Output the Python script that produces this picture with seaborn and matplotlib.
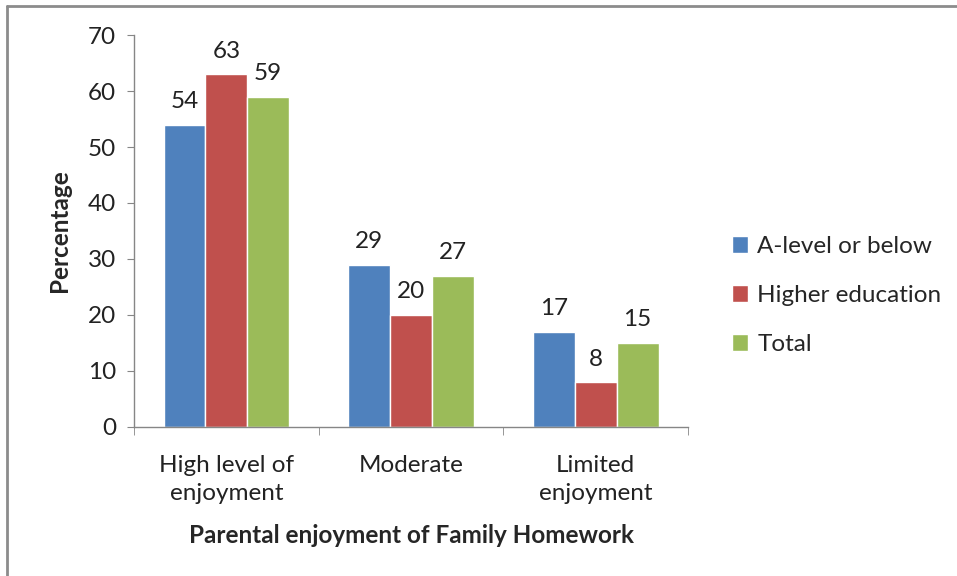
import pandas as pd
import matplotlib.pyplot as plt
import seaborn as sns

# Data
categories = ['High level of\nenjoyment', 'Moderate', 'Limited\nenjoyment']
groups = ['A-level or below', 'Higher education', 'Total']
a_level = [54, 29, 17]
higher_ed = [63, 20, 8]
total = [59, 27, 15]

colors = ['#4F81BD', '#C0504D', '#9BBB59']

df = pd.DataFrame({
    'category': categories * 3,
    'group': [groups[0]] * 3 + [groups[1]] * 3 + [groups[2]] * 3,
    'value': a_level + higher_ed + total,
})

sns.set_style('white')
plt.rcParams['font.family'] = ['Lato', 'DejaVu Sans']

FS = 17.5

fig = plt.figure(figsize=(9.57, 5.76), dpi=100)
ax = fig.add_axes([0.140, 0.259, 0.579, 0.680])

sns.barplot(data=df, x='category', y='value', hue='group', palette=colors,
            width=0.68, saturation=1, ax=ax, legend=True)

for cont in ax.containers:
    ax.bar_label(cont, padding=9, fontsize=FS, color='#222222')

ax.set_ylim(0, 70)
ax.set_xlim(-0.5, 2.5)
ax.set_yticks(range(0, 71, 10))
ax.tick_params(axis='y', labelsize=FS, length=5, color='#868686', left=True,
               labelcolor='#222222', pad=8)
ax.tick_params(axis='x', which='major', labelsize=FS, length=0, pad=20,
               labelcolor='#222222')
for t in ax.get_xticklabels():
    t.set_linespacing(1.45)
ax.set_xticks([-0.5, 0.5, 1.5, 2.5], minor=True)
ax.tick_params(axis='x', which='minor', length=6, color='#868686', bottom=True)

for s in ['top', 'right']:
    ax.spines[s].set_visible(False)
for s in ['left', 'bottom']:
    ax.spines[s].set_color('#868686')
    ax.spines[s].set_linewidth(1)

ax.set_ylabel('Percentage', fontsize=FS, fontweight='bold', labelpad=12)
ax.set_xlabel('Parental enjoyment of Family Homework', fontsize=FS,
              fontweight='bold', labelpad=14)

ax.legend(loc='center left', bbox_to_anchor=(0.7545, 0.487), bbox_transform=fig.transFigure,
          frameon=False, fontsize=FS, handlelength=0.65, handleheight=0.65,
          handletextpad=0.4, labelspacing=1.15, borderaxespad=0)

# outer chart border (top and left visible)
fig.add_artist(plt.Line2D([7 / 957, 1], [1 - 6 / 576, 1 - 6 / 576],
                          transform=fig.transFigure, color='#8c8c8c', lw=2))
fig.add_artist(plt.Line2D([7 / 957, 7 / 957], [0, 1 - 6 / 576],
                          transform=fig.transFigure, color='#8c8c8c', lw=2))

fig.savefig('out.png', dpi=100)
